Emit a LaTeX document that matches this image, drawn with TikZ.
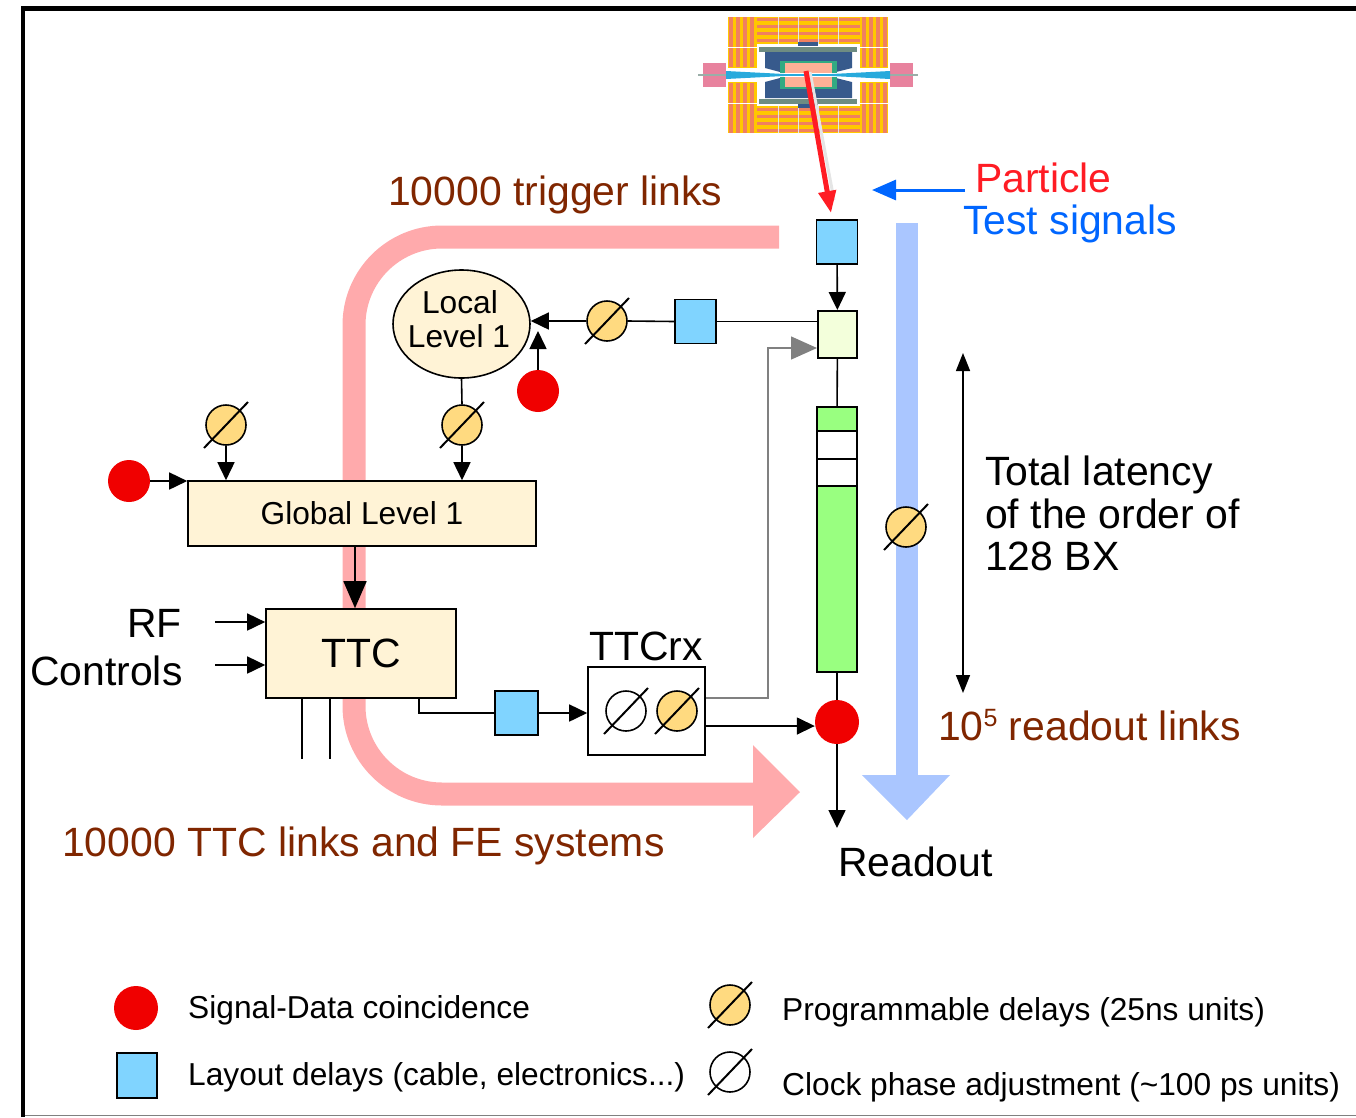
\documentclass[tikz,border=0pt]{standalone}
\usepackage{fontspec}
\setmainfont{Liberation Sans}
\usetikzlibrary{arrows.meta,shapes.geometric}

\definecolor{bandpink}{RGB}{255,170,172}
\definecolor{bandblue}{RGB}{170,198,255}
\definecolor{cream}{RGB}{255,243,214}
\definecolor{laybl}{RGB}{128,212,255}
\definecolor{dlyyel}{RGB}{255,218,128}
\definecolor{sigred}{RGB}{240,0,0}
\definecolor{pipegr}{RGB}{153,255,128}
\definecolor{pipelt}{RGB}{243,255,219}
\definecolor{linkbrown}{RGB}{128,38,0}
\definecolor{partred}{RGB}{255,28,36}
\definecolor{testblue}{RGB}{0,102,255}
\definecolor{cmsyel}{RGB}{255,200,0}
\definecolor{cmsorg}{RGB}{240,128,96}
\definecolor{cmsgray}{RGB}{110,140,130}
\definecolor{cmsblue}{RGB}{55,90,140}
\definecolor{cmsgreen}{RGB}{50,170,130}
\definecolor{cmssalmon}{RGB}{255,176,150}
\definecolor{cmspink}{RGB}{232,130,158}
\definecolor{cmsbeam}{RGB}{40,170,220}

% one half (above the beam) of the detector cross-section, centred on the interaction point
\newcommand\cmshalf{%
  % endcap yokes
  \fill[cmsyel] (-80,-58) rectangle (-51,-7);
  \fill[cmsyel] (52,-58) rectangle (80,-7);
  \foreach \x in {-79,-72,-65,-58} {\fill[cmsorg] (\x,-58) rectangle (\x+4,-8);}
  \foreach \x in {54,61,68,75} {\fill[cmsorg] (\x,-58) rectangle (\x+4,-8);}
  \draw[white, line width=0.8pt] (-80,-28) -- (-51,-28) (52,-28) -- (80,-28);
  % barrel yoke
  \fill[cmsyel] (-51,-58) rectangle (52,-31);
  \foreach \y in {-57,-50,-43,-36} {\fill[cmsorg] (-51,\y) rectangle (52,\y+3);}
  \foreach \x in {-30,-10,10,30} {\draw[white!80!gray, line width=0.7pt] (\x,-58) -- (\x,-31);}
  % coil / tracker ring
  \fill[cmsgray] (-50,-29) rectangle (49,-23);
  \draw[white, line width=0.6pt] (-50,-29) rectangle (49,-23);
  % calorimeters
  \fill[cmsblue] (-43,-23) -- (44,-23) -- (44,-7) -- (28,-3) -- (-28,-3) -- (-43,-7) -- cycle;
  \fill[cmsblue] (-10,-33) rectangle (10,-29);
  \fill[cmsgreen] (-28,-14) rectangle (29,-2);
  \fill[cmssalmon] (-23,-12) rectangle (24,-2);
  % forward pieces
  \fill[cmspink] (-105,-12) rectangle (-82,0);
  \fill[cmspink] (82,-12) rectangle (105,0);
}

\tikzset{
  pics/delay/.style={code={
    \node[circle, draw, line width=1.6pt, fill=#1, minimum size=40pt, inner sep=0] (-c) at (0,0) {};
    \draw[line width=2pt] (-22,23) -- (22,-23);
  }}
}

\begin{document}
\begin{tikzpicture}[x=1pt,y=-1pt,
  big/.style={font=\fontsize{40.9}{46}\selectfont, inner sep=0},
  small/.style={font=\fontsize{31.7}{36}\selectfont, inner sep=0},
  wire/.style={line width=1.6pt},
  arr/.style={line width=1.6pt, -{Triangle[length=18pt,width=17pt]}},
  box/.style={draw, line width=1.6pt, fill=cream},
  lay/.style={draw, line width=1.6pt, fill=laybl, minimum width=41pt, minimum height=44pt, inner sep=0},
  pipe/.style={draw, line width=2pt, minimum width=40pt, inner sep=0},
  sig/.style={circle, fill=sigred, minimum size=43pt, inner sep=0}]

\useasboundingbox (0,0) rectangle (1356,1117);

% frame
\draw[gray, line width=1.2pt] (23,1115.5) -- (1356,1115.5);
\draw[line width=4.5pt] (23,1117) -- (23,8.5) -- (1356,8.5);

% wide flow bands
\draw[bandpink, line width=23pt, rounded corners=88pt] (779,237) -- (354,237) -- (354,794) -- (760,794);
\fill[bandpink] (753,745) -- (800,792) -- (753,838) -- cycle;
\fill[bandblue] (896,223) rectangle (918,778);
\fill[bandblue] (862,775) -- (950,775) -- (907,820) -- cycle;

% detector
\begin{scope}[shift={(808,75)}]
  \cmshalf
  \begin{scope}[yscale=-1]\cmshalf\end{scope}
  \draw[cmsgray!70, line width=2pt] (-110,0) -- (110,0);
  \fill[cmsbeam] (-82,-4) -- (-20,-0.8) -- (20,-0.8) -- (82,-4) -- (82,4) -- (20,0.8) -- (-20,0.8) -- (-82,4) -- cycle;
\end{scope}

% particle track
\coordinate (ip) at (806,71);
\coordinate (hit) at (831,213);
\coordinate (ips) at (810,72);
\coordinate (hits) at (834,200);
\draw[white!80!gray, line width=3pt] (ips) -- (hits);
\draw[partred, line width=5pt, -{Triangle[length=22pt,width=17pt]}] (ip) -- (hit);

% test signal arrow
\coordinate (tsa) at (965,190);
\coordinate (tsb) at (872,190);
\draw[testblue, line width=3pt, -{Triangle[length=24pt,width=20pt]}] (tsa) -- (tsb);

% front-end chain
\node[lay] (lb1) at (837,242) {};
\node[pipe, fill=pipelt, minimum width=39pt, minimum height=47pt] (ly) at (837.5,334.5) {};
\node[pipe, fill=pipegr, minimum height=24pt] (pg1) at (837,419) {};
\node[pipe, fill=white, minimum height=28pt] (pw1) at (837,445) {};
\node[pipe, fill=white, minimum height=27pt] (pw2) at (837,472.5) {};
\node[pipe, fill=pipegr, minimum height=186pt] (pg2) at (837,579) {};
\node[sig, minimum size=44pt] (s3) at (837,722) {};
\coordinate (ro) at (837,828);

\draw[arr] (lb1) -- (ly);
\draw[wire] (ly) -- (pg1);
\draw[wire] (pg2) -- (s3);
\draw[arr] (s3) -- (ro);

% local trigger path
\node[lay] (lb2) at (695.5,321.5) {};
\pic (d1) at (607,321) {delay=dlyyel};
\node[ellipse, draw, line width=1.6pt, fill=cream, minimum width=137pt, minimum height=108pt, inner sep=0] (ll1) at (461.5,324) {};
\node[small, anchor=base] (ll1a) at (460,313) {Local};
\node[small, anchor=base] (ll1b) at (459,347) {Level 1};
\node[sig, minimum size=42pt] (s1) at (538,391) {};
\coordinate (s1tip) at (538,331);

\draw[wire] (ly.west |- lb2.east) -- (lb2.east);
\draw[wire] (lb2.west) -- (d1-c.east);
\draw[arr] (d1-c.west) -- (d1-c.west -| ll1.east);
\draw[arr] (s1) -- (s1tip);

% global trigger
\node[box, small, minimum width=348pt, minimum height=65pt] (gl1) at (362,513.5) {Global Level 1};
\pic (d2) at (462,425) {delay=dlyyel};
\pic (d3) at (226,425) {delay=dlyyel};
\node[sig, minimum size=42pt] (s2) at (129,481) {};
\draw[wire] (ll1.south) -- (d2-c.north);
\draw[arr] (d2-c.south) -- (d2-c.south |- gl1.north);
\draw[arr] (d3-c.south) -- (d3-c.south |- gl1.north);
\draw[arr] (s2) -- (s2 -| gl1.west);

% TTC
\node[box, big, minimum width=190pt, minimum height=89pt] (ttc) at (361,653.5) {TTC};
\coordinate (gt) at (355,600);
\draw[line width=1.6pt, -{Triangle[length=27pt,width=23pt]}] (gl1.south -| gt) -- (ttc.north -| gt);
\coordinate (rf1) at (215,622);
\coordinate (rf2) at (215,665);
\draw[arr] (rf1) -- (rf1 -| ttc.west);
\draw[arr] (rf2) -- (rf2 -| ttc.west);
\node[big, anchor=base east] (rft) at (182,637) {RF};
\node[big, anchor=base west] (ctl) at (30,685) {Controls};
\coordinate (b1) at (302,759);
\coordinate (b2) at (330,759);
\draw[wire] (b1 |- ttc.south) -- (b1);
\draw[wire] (b2 |- ttc.south) -- (b2);

% TTC distribution to the receiver
\node[lay, minimum width=43pt] (lb3) at (516.5,713) {};
\node[draw, line width=1.6pt, fill=white, minimum width=117pt, minimum height=88pt] (rx) at (646.5,711) {};
\node[big, anchor=base] (rxt) at (646,660) {TTCrx};
\pic (d4) at (626,711) {delay=white};
\pic (d5) at (677,711) {delay=dlyyel};
\coordinate (tx) at (419,713);
\draw[wire] (tx |- ttc.south) -- (tx) -- (lb3.west);
\draw[arr] (lb3.east) -- (lb3.east -| rx.west);
\coordinate (gk) at (768,698);
\coordinate (gk2) at (768,348);
\draw[gray, line width=1.4pt, -{Triangle[length=26pt,width=23pt]}] (rx.east |- gk) -- (gk) -- (gk2) -- (gk2 -| ly.west);
\coordinate (ra) at (705,726);
\draw[arr] (rx.east |- ra) -- (ra -| s3.west);

% pipeline delay on the readout band
\pic (d6) at (906,527) {delay=dlyyel};

% latency marker
\coordinate (lt) at (963,353);
\coordinate (lb) at (963,693);
\draw[line width=1.6pt, {Triangle[length=18pt,width=14pt]}-{Triangle[length=18pt,width=14pt]}] (lt) -- (lb);

% labels
\node[big, anchor=base west, text=linkbrown] (trl) at (388,205) {10000 trigger links};
\node[big, anchor=base west, text=linkbrown] (ttl) at (62,856) {10000 TTC links and FE systems};
\node[big, anchor=base west, text=linkbrown] (rol) at (938,740) {10\raisebox{14pt}{\fontsize{25}{25}\selectfont 5} readout links};
\node[big, anchor=base west, text=partred] (pt) at (975,192) {Particle};
\node[big, anchor=base west, text=testblue] (tst) at (963,234) {Test signals};
\node[big, anchor=base west] (lat1) at (985,485) {Total latency};
\node[big, anchor=base west] (lat2) at (985,528) {of the order of};
\node[big, anchor=base west] (lat3) at (985,570) {128 BX};
\node[big, anchor=base west] (rdo) at (838,876) {Readout};

% legend
\node[sig, minimum size=44pt] (ls) at (136,1008) {};
\node[lay, minimum width=40pt, minimum height=45pt] (ll) at (137,1075.5) {};
\pic (lp) at (730,1005) {delay=dlyyel};
\pic (lc) at (730,1072) {delay=white};
\node[small, anchor=base west] (lst) at (188,1018) {Signal-Data coincidence};
\node[small, anchor=base west] (llt) at (188,1085) {Layout delays (cable, electronics...)};
\node[small, anchor=base west] (lpt) at (782,1020) {Programmable delays (25ns units)};
\node[small, anchor=base west] (lct) at (782,1095) {Clock phase adjustment (\textasciitilde100 ps units)};

\end{tikzpicture}
\end{document}
